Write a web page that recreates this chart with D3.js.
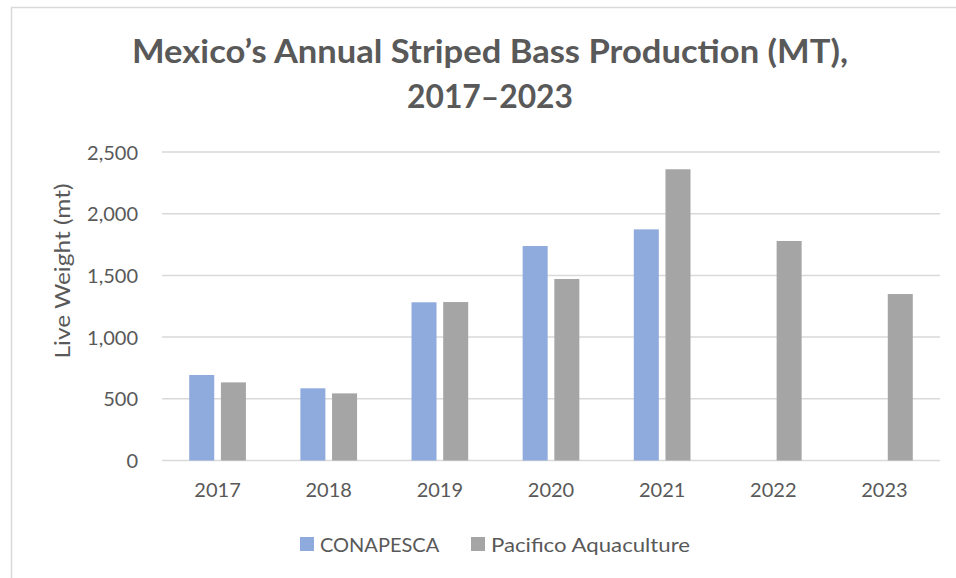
<!DOCTYPE html>
<html>
<head>
<meta charset="utf-8">
<script src="https://cdn.jsdelivr.net/npm/d3@7"></script>
<style>
  body { margin: 0; background: #fff; }
  text { font-family: Lato, "Open Sans", sans-serif; fill: #595959; }
</style>
</head>
<body>
<div id="chart"></div>
<script>
const years = ['2017', '2018', '2019', '2020', '2021', '2022', '2023'];
const seriesNames = ['CONAPESCA', 'Pacifico Aquaculture'];
const conapesca = [693, 585, 1282, 1738, 1873, null, null];
const pacifico = [633, 544, 1284, 1471, 2360, 1779, 1349];
const yTicks = [0, 500, 1000, 1500, 2000, 2500];
const colors = ['#8FAADC', '#A5A5A5'];

const width = 956, height = 578;
const plot = { left: 162, right: 940, top: 152, bottom: 460.5 };

const svg = d3.select('#chart').append('svg').attr('width', width).attr('height', height);

// stretch/squeeze a label to the width it has in the original
function fit(sel, w) {
  const len = sel.node().getComputedTextLength();
  if (Math.abs(len - w) > 2) sel.attr('textLength', w).attr('lengthAdjust', 'spacingAndGlyphs');
}

// chart frame (only left and top edges are inside the picture)
svg.append('path')
  .attr('d', 'M11.5,600 V7.5 H1000')
  .attr('fill', 'none').attr('stroke', '#D9D9D9').attr('stroke-width', 1.5);

const x0 = d3.scaleBand().domain(years).range([plot.left, plot.right]);
const x1 = d3.scaleBand().domain(seriesNames).range([0, x0.bandwidth()])
  .paddingInner(0.211).paddingOuter(0.859);
const y = d3.scaleLinear().domain([0, 2500]).range([plot.bottom, plot.top]);

// gridlines
svg.append('g').selectAll('line').data(yTicks).join('line')
  .attr('x1', plot.left).attr('x2', plot.right)
  .attr('y1', d => y(d)).attr('y2', d => y(d))
  .attr('stroke', '#D9D9D9').attr('stroke-width', 1.5);

// y axis labels
const yAxis = svg.append('g').attr('transform', `translate(${plot.left - 24},0)`)
  .call(d3.axisLeft(y).tickValues(yTicks).tickFormat(d3.format(',')).tickSize(0).tickPadding(0));
yAxis.select('.domain').remove();
yAxis.selectAll('text').attr('font-size', 20).attr('fill', '#595959')
  .attr('font-family', 'Lato, sans-serif').attr('dy', '0.35em');

// x axis labels
const xAxis = svg.append('g').attr('transform', `translate(0,${plot.bottom})`)
  .call(d3.axisBottom(x0).tickSize(0).tickPadding(22));
xAxis.select('.domain').remove();
xAxis.selectAll('text').attr('font-size', 20).attr('fill', '#595959')
  .attr('font-family', 'Lato, sans-serif');

// bars
const rows = years.map((yr, i) => ({ year: yr, values: [conapesca[i], pacifico[i]] }));
const groups = svg.append('g').selectAll('g').data(rows).join('g')
  .attr('transform', d => `translate(${x0(d.year)},0)`);
groups.selectAll('rect')
  .data(d => d.values.map((v, j) => ({ key: seriesNames[j], value: v, c: colors[j] })).filter(d => d.value != null))
  .join('rect')
  .attr('x', d => x1(d.key))
  .attr('width', x1.bandwidth())
  .attr('y', d => y(d.value))
  .attr('height', d => y(0) - y(d.value))
  .attr('fill', d => d.c);

// title
const t1 = svg.append('text').attr('x', 490).attr('y', 63).attr('text-anchor', 'middle')
  .attr('font-size', 33).attr('font-weight', 'bold')
  .text('Mexico’s Annual Striped Bass Production (MT),');
fit(t1, 716);
const t2 = svg.append('text').attr('x', 490).attr('y', 108).attr('text-anchor', 'middle')
  .attr('font-size', 33).attr('font-weight', 'bold')
  .text('2017–2023');
fit(t2, 166);

// y axis title
const yt = svg.append('text').attr('transform', 'translate(70,271) rotate(-90)')
  .attr('text-anchor', 'middle').attr('font-size', 21)
  .text('Live Weight (mt)');
fit(yt, 175);

// legend
const legendX = [300, 471];
const legendW = [118, 199];
const lg = svg.append('g').selectAll('g').data(seriesNames).join('g')
  .attr('transform', (d, i) => `translate(${legendX[i]},537)`);
lg.append('rect').attr('width', 14).attr('height', 14).attr('fill', (d, i) => colors[i]);
lg.append('text').attr('x', 20).attr('y', 15).attr('font-size', 20)
  .text(d => d)
  .each(function(d, i) { fit(d3.select(this), legendW[i]); });
</script>
</body>
</html>
